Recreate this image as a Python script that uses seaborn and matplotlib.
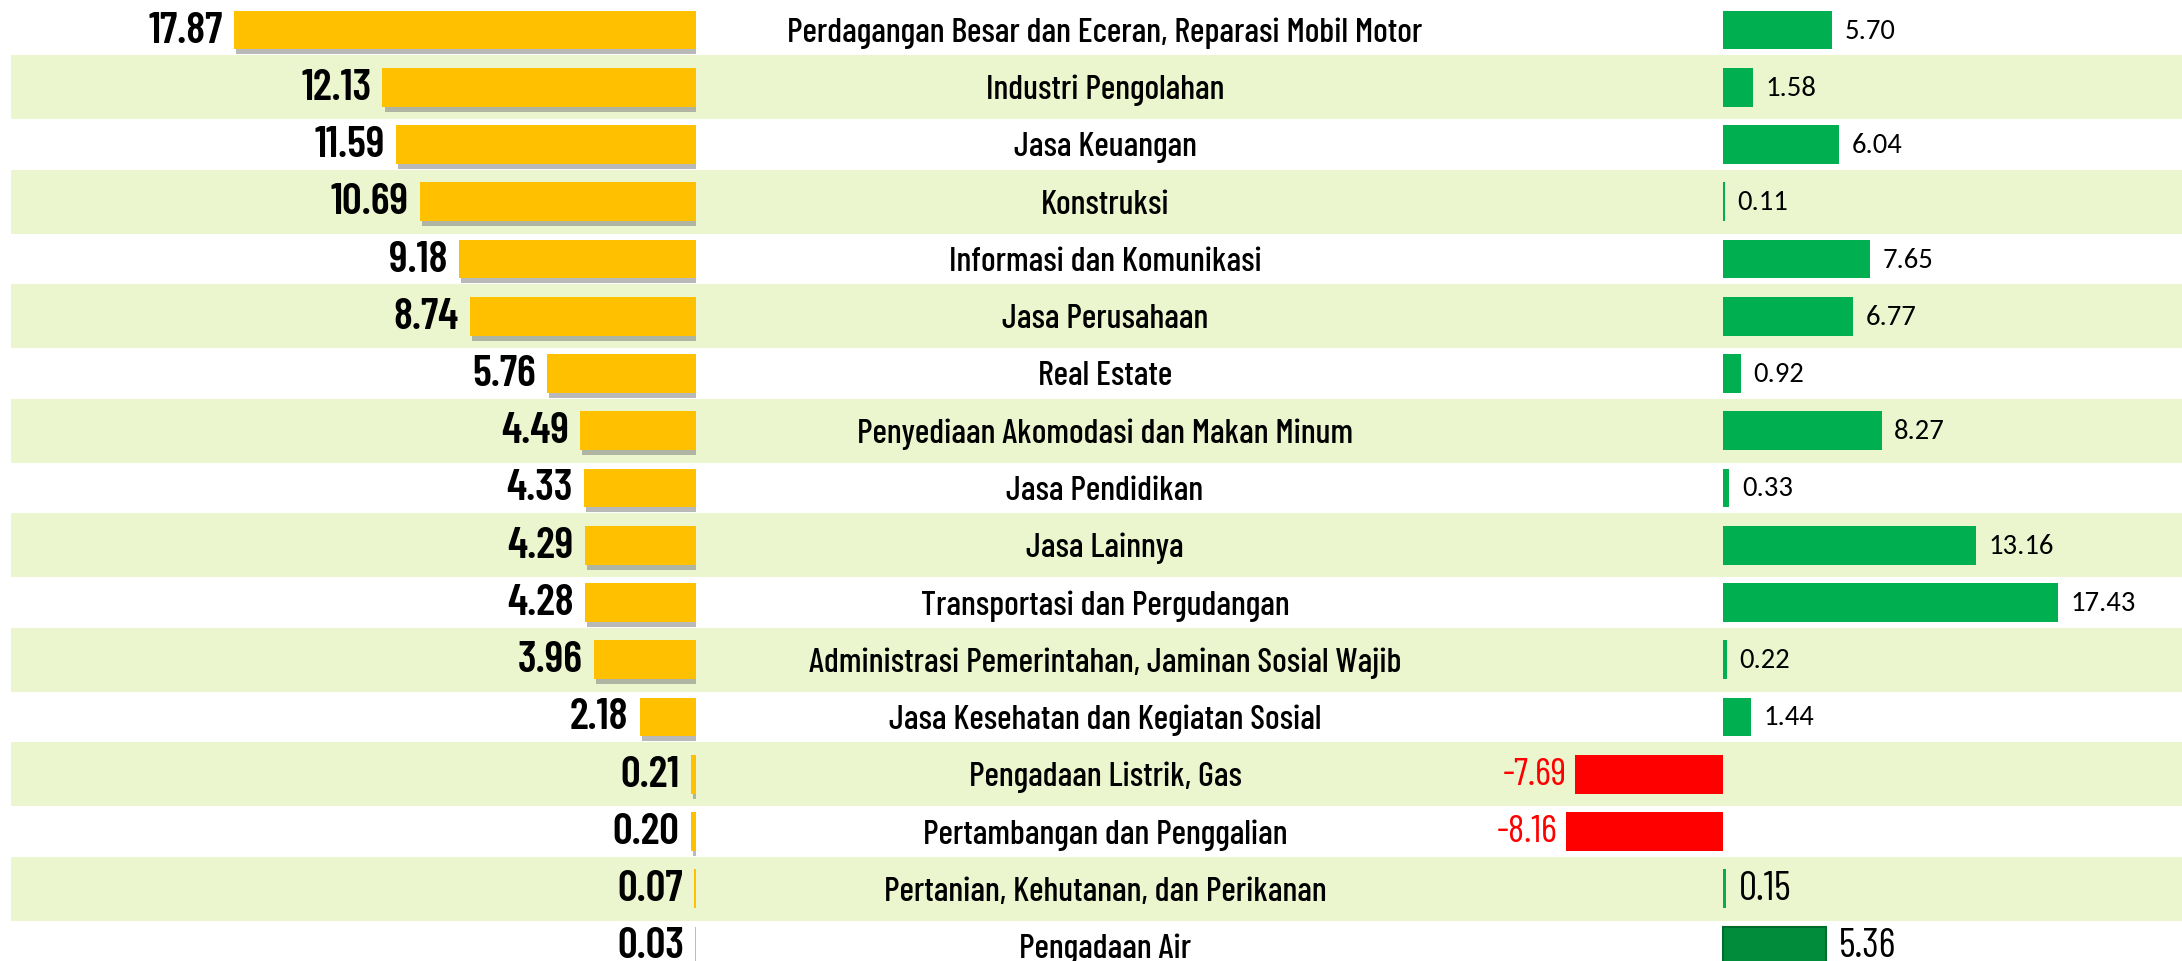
import matplotlib
matplotlib.use("Agg")
import pandas as pd
import seaborn as sns
import matplotlib.pyplot as plt
import matplotlib.transforms as mtransforms
from matplotlib import patheffects as pe
from matplotlib import font_manager

# Data: sector, share of economy (%) and growth (%)
sectors = [
    "Perdagangan Besar dan Eceran, Reparasi Mobil Motor",
    "Industri Pengolahan",
    "Jasa Keuangan",
    "Konstruksi",
    "Informasi dan Komunikasi",
    "Jasa Perusahaan",
    "Real Estate",
    "Penyediaan Akomodasi dan Makan Minum",
    "Jasa Pendidikan",
    "Jasa Lainnya",
    "Transportasi dan Pergudangan",
    "Administrasi Pemerintahan, Jaminan Sosial Wajib",
    "Jasa Kesehatan dan Kegiatan Sosial",
    "Pengadaan Listrik, Gas",
    "Pertambangan dan Penggalian",
    "Pertanian, Kehutanan, dan Perikanan",
    "Pengadaan Air",
]
share = [17.87, 12.13, 11.59, 10.69, 9.18, 8.74, 5.76, 4.49, 4.33, 4.29,
         4.28, 3.96, 2.18, 0.21, 0.20, 0.07, 0.03]
growth = [5.70, 1.58, 6.04, 0.11, 7.65, 6.77, 0.92, 8.27, 0.33, 13.16,
          17.43, 0.22, 1.44, -7.69, -8.16, 0.15, 5.36]

df = pd.DataFrame({"sector": sectors, "share": share, "growth": growth})

installed = {f.name for f in font_manager.fontManager.ttflist}


def pick(cands):
    return [c for c in cands if c in installed] + ["DejaVu Sans"]


cat_font = pick(["Barlow Condensed", "Roboto Condensed", "Archivo Narrow"])
num_font = pick(["Barlow Condensed", "Roboto Condensed", "Archivo Narrow"])
green_font = pick(["Carlito", "Lato", "Liberation Sans"])

sns.set_theme(style="white")
plt.rcParams["font.family"] = num_font
plt.rcParams["text.color"] = "black"

YELLOW = "#FFC000"
GREEN = "#00B050"
DARK_GREEN = "#008C3A"
RED = "#FF0000"
STRIPE = "#EBF5CE"

W, H = 2182, 962
fig = plt.figure(figsize=(W / 100, H / 100), dpi=100)
renderer = fig.canvas.get_renderer()


def fit_size(s, family, weight, target_px):
    t = fig.text(0, 0, s, fontsize=10, family=family, fontweight=weight)
    w = t.get_window_extent(renderer).width
    t.remove()
    return 10 * target_px / w


cat_size = fit_size(sectors[0], cat_font, 500, 635)
left_size = fit_size("17.87", num_font, 600, 75)
green_size = fit_size("5.70", green_font, "normal", 51)
red_size = fit_size("-7.69", num_font, "normal", 64)
low_size = fit_size("0.15", num_font, "normal", 52)

# row layout (in pixel units of the figure)
row_h = 57.25
first = 31
ylim = ((H - first) / row_h, -first / row_h)
n = len(sectors)

# background stripes
bg = fig.add_axes([0, 0, 1, 1])
bg.set_xlim(0, 1)
bg.set_ylim(*ylim)
bg.axis("off")
for i in range(1, n, 2):
    bg.axhspan(i - 0.56, i + 0.56, xmin=11 / W, xmax=1, color=STRIPE, lw=0)

# sector names in the middle
tr = mtransforms.blended_transform_factory(fig.transFigure, bg.transData)
for i, name in enumerate(sectors):
    bg.text(1105 / W, i + 0.04, name, transform=tr, ha="center", va="center",
            fontsize=cat_size, family=cat_font, fontweight=500, color="black")

# left panel: share, bars grow to the left
px_left = 25.85
axl = fig.add_axes([0, 0, 696 / W, 1])
axl.set_facecolor("none")
sns.barplot(data=df, x="share", y="sector", color=YELLOW, width=0.68,
            saturation=1, linewidth=0, ax=axl)
axl.set_xlim(696 / px_left, 0)
axl.set_ylim(*ylim)
axl.axis("off")
for bar in axl.patches:
    bar.set_path_effects([
        pe.withSimplePatchShadow(offset=(1.5, -3.5), shadow_rgbFace="#808080", alpha=0.55),
        pe.Normal(),
    ])
for i, v in enumerate(share):
    axl.annotate(f"{v:.2f}", (v, i), xytext=(-8, 0), textcoords="offset points",
                 ha="right", va="center", fontsize=left_size, fontweight=600,
                 color="black")

# right panel: growth
px_right = 19.2
x0 = 1000
zero = 1723
axr = fig.add_axes([x0 / W, 0, (W - x0) / W, 1])
axr.set_facecolor("none")
colors = {s: (GREEN if g >= 0 else RED) for s, g in zip(sectors, growth)}
colors[sectors[-1]] = DARK_GREEN
sns.barplot(data=df, x="growth", y="sector", hue="sector", palette=colors,
            width=0.68, saturation=1, linewidth=0, legend=False, ax=axr)
axr.set_xlim(-(zero - x0) / px_right, (W - zero) / px_right)
axr.set_ylim(*ylim)
axr.axis("off")
for bar in axr.patches:
    if bar.get_facecolor()[:3] == matplotlib.colors.to_rgb(DARK_GREEN):
        bar.set_edgecolor("#006B2E")
        bar.set_linewidth(1.5)

for i, v in enumerate(growth):
    if v < 0:
        axr.annotate(f"{v:.2f}", (v, i), xytext=(-6, 0), textcoords="offset points",
                     ha="right", va="center", fontsize=red_size, color=RED)
    elif i >= n - 2:
        axr.annotate(f"{v:.2f}", (v, i), xytext=(9, 0), textcoords="offset points",
                     ha="left", va="center", fontsize=low_size, color="black")
    else:
        axr.annotate(f"{v:.2f}", (v, i), xytext=(9, 0), textcoords="offset points",
                     ha="left", va="center", fontsize=green_size,
                     family=green_font, color="black")

fig.savefig("out.png", dpi=100)
